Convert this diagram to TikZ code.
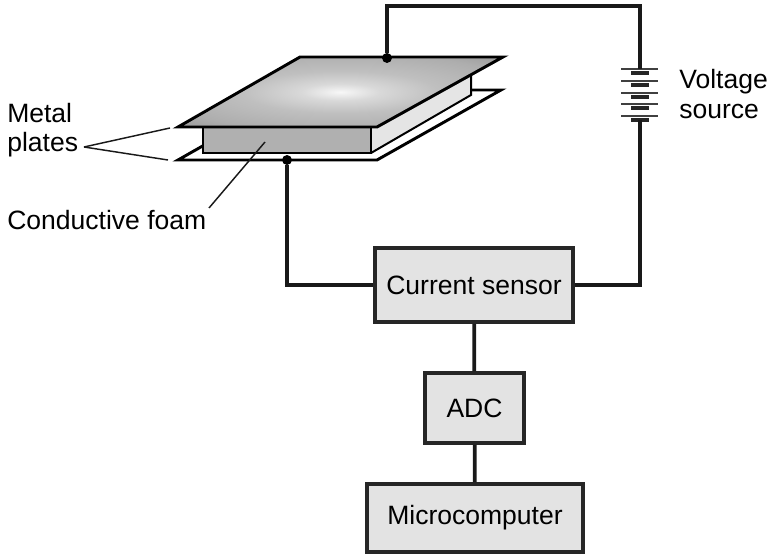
\documentclass[tikz,border=0pt]{standalone}
\usepackage{fontspec}
\setmainfont{Liberation Sans}
\usetikzlibrary{positioning,calc}
\definecolor{boxgray}{gray}{0.89}
\definecolor{foamfront}{gray}{0.69}
\definecolor{foamside}{gray}{0.90}
\pgfdeclareradialshading{platesheen}{\pgfpoint{0bp}{0bp}}{%
  color(0bp)=(black!3); color(6bp)=(black!15); color(15bp)=(black!25);
  color(28bp)=(black!32); color(42bp)=(black!46); color(50bp)=(black!66)}

\begin{document}
\begin{tikzpicture}[
  x=0.0265cm, y=-0.0265cm,
  unit/.style  = {rectangle, draw=black!85, line width=2.8pt, fill=boxgray, inner sep=0pt,
                  font=\fontsize{20}{24}\selectfont, align=center},
  label/.style = {font=\fontsize{20}{22}\selectfont, align=left, inner sep=0pt},
  wire/.style  = {line width=2.8pt, black!90},
  plate/.style = {line width=2.2pt, black, line join=miter},
  lead/.style  = {line width=1.1pt, black!90},
  dot/.style   = {circle, fill=black, inner sep=0pt, minimum size=7.5pt},
  posbar/.style = {line width=1.5pt, black!75},
  negbar/.style = {line width=2.6pt, black!85}
]
\useasboundingbox (0,0) rectangle (768,556);

%% Bottom plate
\draw[plate, fill=white] (178,160) -- (377,160) -- (501,90) -- (301,90) -- cycle;

%% Foam block
\fill[foamside] (371,127) -- (471,70) -- (471,95) -- (371,153) -- cycle;
\draw[plate, line width=1.5pt] (371,153) -- (471,95) -- (471,70);
\draw[plate, line width=1.5pt, fill=foamfront] (203,127) rectangle (371,153);

%% Top plate
\shade[shading=platesheen] (178,127) -- (300,57) -- (503,57) -- (377,127) -- cycle;
\draw[plate] (178,127) -- (300,57) -- (503,57) -- (377,127) -- cycle;

%% Boxes
\node[unit, minimum width=5.25cm, minimum height=1.96cm] (sensor) at (474,285) {Current sensor};
\node[unit, minimum width=2.62cm, minimum height=1.85cm] (adc)    at (474.5,408) {ADC};
\node[unit, minimum width=5.72cm, minimum height=1.80cm] (micro)  at (475,518) {Microcomputer};

%% Junctions
\node[dot] (topdot)    at (387,58)  {};
\node[dot] (bottomdot) at (287,160) {};

%% Battery
\coordinate (battop) at (640,69);
\coordinate (batbot) at (640,120);
\foreach \y in {69,81,93,104,116} {
  \draw[posbar] (621,\y) -- (658,\y);
}
\foreach \y in {73,85,97,108,120} {
  \draw[negbar] (631,\y) -- (649,\y);
}

%% Wires
\draw[wire] (topdot) |- (640,6) -- (battop);
\draw[wire] (batbot) |- (sensor.east);
\draw[wire] (bottomdot) |- (sensor.west);
\draw[wire] (sensor) -- (adc);
\draw[wire] (adc) -- (micro);

%% Labels
\node[label, anchor=west] (voltage) at (679,94) {Voltage\\source};
\node[label, anchor=west] (metal)   at (7,130)  {Metal\\plates};
\node[label, anchor=west] (foam)    at (7,220)  {Conductive foam};

%% Leader lines
\coordinate (metalend) at (84,147);
\draw[lead] (metalend) -- (170,128);
\draw[lead] (metalend) -- (168,160);
\draw[lead] (209,208) -- (265,142);
\end{tikzpicture}
\end{document}
